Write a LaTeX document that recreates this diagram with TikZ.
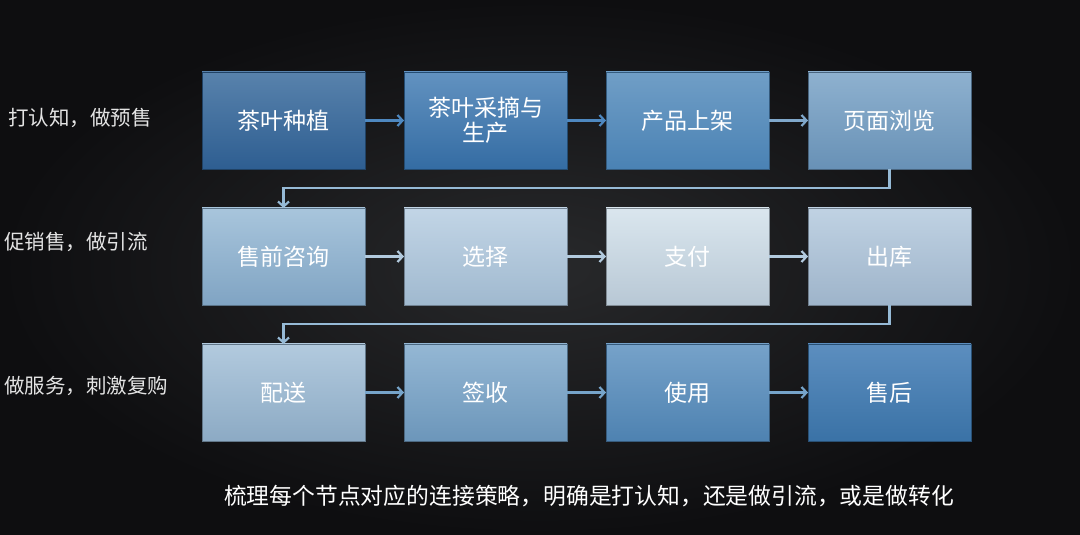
\documentclass[tikz,border=0pt]{standalone}
\usepackage{fontspec}
\setmainfont{Noto Sans CJK SC}
\usetikzlibrary{arrows.meta,calc}
\definecolor{bgin}{RGB}{40,41,43}
\definecolor{bgout}{RGB}{14,14,16}
\definecolor{lbl}{RGB}{228,228,228}
% box colours (top / bottom)
\definecolor{aT}{RGB}{88,130,172}\definecolor{aB}{RGB}{46,94,145}
\definecolor{bT}{RGB}{98,146,192}\definecolor{bB}{RGB}{52,108,163}
\definecolor{cT}{RGB}{112,158,198}\definecolor{cB}{RGB}{74,130,180}
\definecolor{dT}{RGB}{142,177,207}\definecolor{dB}{RGB}{104,145,182}
\definecolor{eT}{RGB}{168,197,220}\definecolor{eB}{RGB}{128,164,195}
\definecolor{fT}{RGB}{194,213,230}\definecolor{fB}{RGB}{160,185,207}
\definecolor{gT}{RGB}{218,230,238}\definecolor{gB}{RGB}{184,200,213}
\definecolor{hT}{RGB}{192,210,227}\definecolor{hB}{RGB}{158,180,202}
\definecolor{iT}{RGB}{178,202,222}\definecolor{iB}{RGB}{140,170,196}
\definecolor{jT}{RGB}{148,183,212}\definecolor{jB}{RGB}{108,150,186}
\definecolor{kT}{RGB}{118,162,201}\definecolor{kB}{RGB}{78,130,177}
\definecolor{lT}{RGB}{92,142,191}\definecolor{lB}{RGB}{58,114,166}
\definecolor{arA}{RGB}{78,136,192}
\definecolor{arB}{RGB}{128,168,203}
\definecolor{arW}{RGB}{150,186,214}
\definecolor{arC}{RGB}{178,202,222}
\definecolor{arD}{RGB}{118,164,202}
\tikzset{
  procbox/.style n args={2}{minimum width=163bp, minimum height=97bp, inner sep=0pt, outer sep=0pt,
    top color=#1, bottom color=#2, draw=#2!70!black, line width=0.8bp,
    text=white, font=\fontsize{23bp}{25bp}\selectfont, align=center},
  flow/.style={line width=2.6bp, draw=#1, -{Straight Barb[length=5bp,width=11bp,line width=2.2bp]}},
  sidelbl/.style={anchor=west, text=lbl, font=\fontsize{20.5bp}{22bp}\selectfont, inner sep=0pt},
}
\begin{document}
\begin{tikzpicture}[x=1bp,y=-1bp]
\useasboundingbox (0,0) rectangle (1080,535);
\shade[inner color=bgin, outer color=bgout] (0,0) rectangle (1080,535);
% row 1
\node[procbox={aT}{aB}] (b1) at (283.5,120.5) {茶叶种植};
\node[procbox={bT}{bB}] (b2) at (485.5,120.5) {茶叶采摘与\\生产};
\node[procbox={cT}{cB}] (b3) at (687.5,120.5) {产品上架};
\node[procbox={dT}{dB}] (b4) at (889.5,120.5) {页面浏览};
% row 2
\node[procbox={eT}{eB}] (b5) at (283.5,256.5) {售前咨询};
\node[procbox={fT}{fB}] (b6) at (485.5,256.5) {选择};
\node[procbox={gT}{gB}] (b7) at (687.5,256.5) {支付};
\node[procbox={hT}{hB}] (b8) at (889.5,256.5) {出库};
% row 3
\node[procbox={iT}{iB}] (b9) at (283.5,392.5) {配送};
\node[procbox={jT}{jB}] (b10) at (485.5,392.5) {签收};
\node[procbox={kT}{kB}] (b11) at (687.5,392.5) {使用};
\node[procbox={lT}{lB}] (b12) at (889.5,392.5) {售后};
% connectors
\draw[flow=arA] (b1.east) -- (b2.west);
\draw[flow=arA] (b2.east) -- (b3.west);
\draw[flow=arB] (b3.east) -- (b4.west);
\draw[flow=arW] (b4.south) -- ++(0,19) -| (b5.north);
\draw[flow=arC] (b5.east) -- (b6.west);
\draw[flow=arC] (b6.east) -- (b7.west);
\draw[flow=arC] (b7.east) -- (b8.west);
\draw[flow=arW] (b8.south) -- ++(0,19) -| (b9.north);
\draw[flow=arD] (b9.east) -- (b10.west);
\draw[flow=arD] (b10.east) -- (b11.west);
\draw[flow=arD] (b11.east) -- (b12.west);
% side labels
\node[sidelbl] (l1) at (8,118) {打认知，做预售};
\node[sidelbl] (l2) at (4,242) {促销售，做引流};
\node[sidelbl] (l3) at (4,386) {做服务，刺激复购};
% bottom caption
\node[text=white, font=\fontsize{22.8bp}{24bp}\selectfont, inner sep=0pt] (cap) at (589,496) {梳理每个节点对应的连接策略，明确是打认知，还是做引流，或是做转化};
\end{tikzpicture}
\end{document}
